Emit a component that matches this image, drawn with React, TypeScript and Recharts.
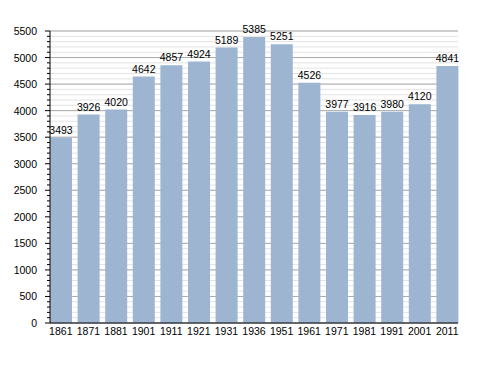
import { BarChart, Bar, XAxis, YAxis, CartesianGrid, LabelList } from 'recharts';

// census years and population
const years = ['1861', '1871', '1881', '1901', '1911', '1921', '1931', '1936', '1951', '1961', '1971', '1981', '1991', '2001', '2011'];
const population = [3493, 3926, 4020, 4642, 4857, 4924, 5189, 5385, 5251, 4526, 3977, 3916, 3980, 4120, 4841];

const majorTicks = [0, 500, 1000, 1500, 2000, 2500, 3000, 3500, 4000, 4500, 5000, 5500];
const minorTicks = Array.from({ length: 56 }, (_, i) => i * 100);

const data = years.map((year, i) => ({ year, value: population[i] }));

const FONT = '"Liberation Sans", Arial, sans-serif';

// y axis tick: long tick + label every 500, short tick every 100
const YTick = (props: any) => {
  const { x, y, payload } = props;
  const major = payload.value % 500 === 0;
  return (
    <g>
      <line x1={x - (major ? 5 : 3)} x2={x} y1={y} y2={y} stroke="#000" />
      {major && (
        <text x={x - 13} y={y} dy={4} textAnchor="end" fill="#000" fontSize={10.5} fontFamily={FONT}>
          {payload.value}
        </text>
      )}
    </g>
  );
};

export default function App() {
  return (
    <div style={{ position: 'absolute', left: 0, top: 0, width: 488, height: 373, background: '#fff', fontFamily: FONT }}>
      <BarChart
        width={488}
        height={373}
        data={data}
        margin={{ top: 31, right: 30, bottom: 30, left: 0 }}
        barCategoryGap={3}
      >
        <CartesianGrid vertical={false} stroke="#e3e3e3" horizontalValues={minorTicks} />
        <CartesianGrid vertical={false} stroke="#ababab" horizontalValues={majorTicks} />
        <YAxis
          width={50}
          domain={[0, 5500]}
          ticks={minorTicks}
          interval={0}
          tickSize={0}
          tickMargin={0}
          tickLine={false}
          axisLine={{ stroke: '#000' }}
          tick={<YTick />}
        />
        <XAxis
          dataKey="year"
          height={20}
          interval={0}
          padding={{ left: -3, right: -3 }}
          tickSize={0}
          tickMargin={5}
          axisLine={{ stroke: '#000' }}
          tick={{ fill: '#000', fontSize: 10.5, fontFamily: FONT }}
        />
        <Bar dataKey="value" fill="#9db5d1" isAnimationActive={false}>
          <LabelList dataKey="value" position="top" offset={4} fill="#000" fontSize={10.5} fontFamily={FONT} />
        </Bar>
      </BarChart>
    </div>
  );
}
